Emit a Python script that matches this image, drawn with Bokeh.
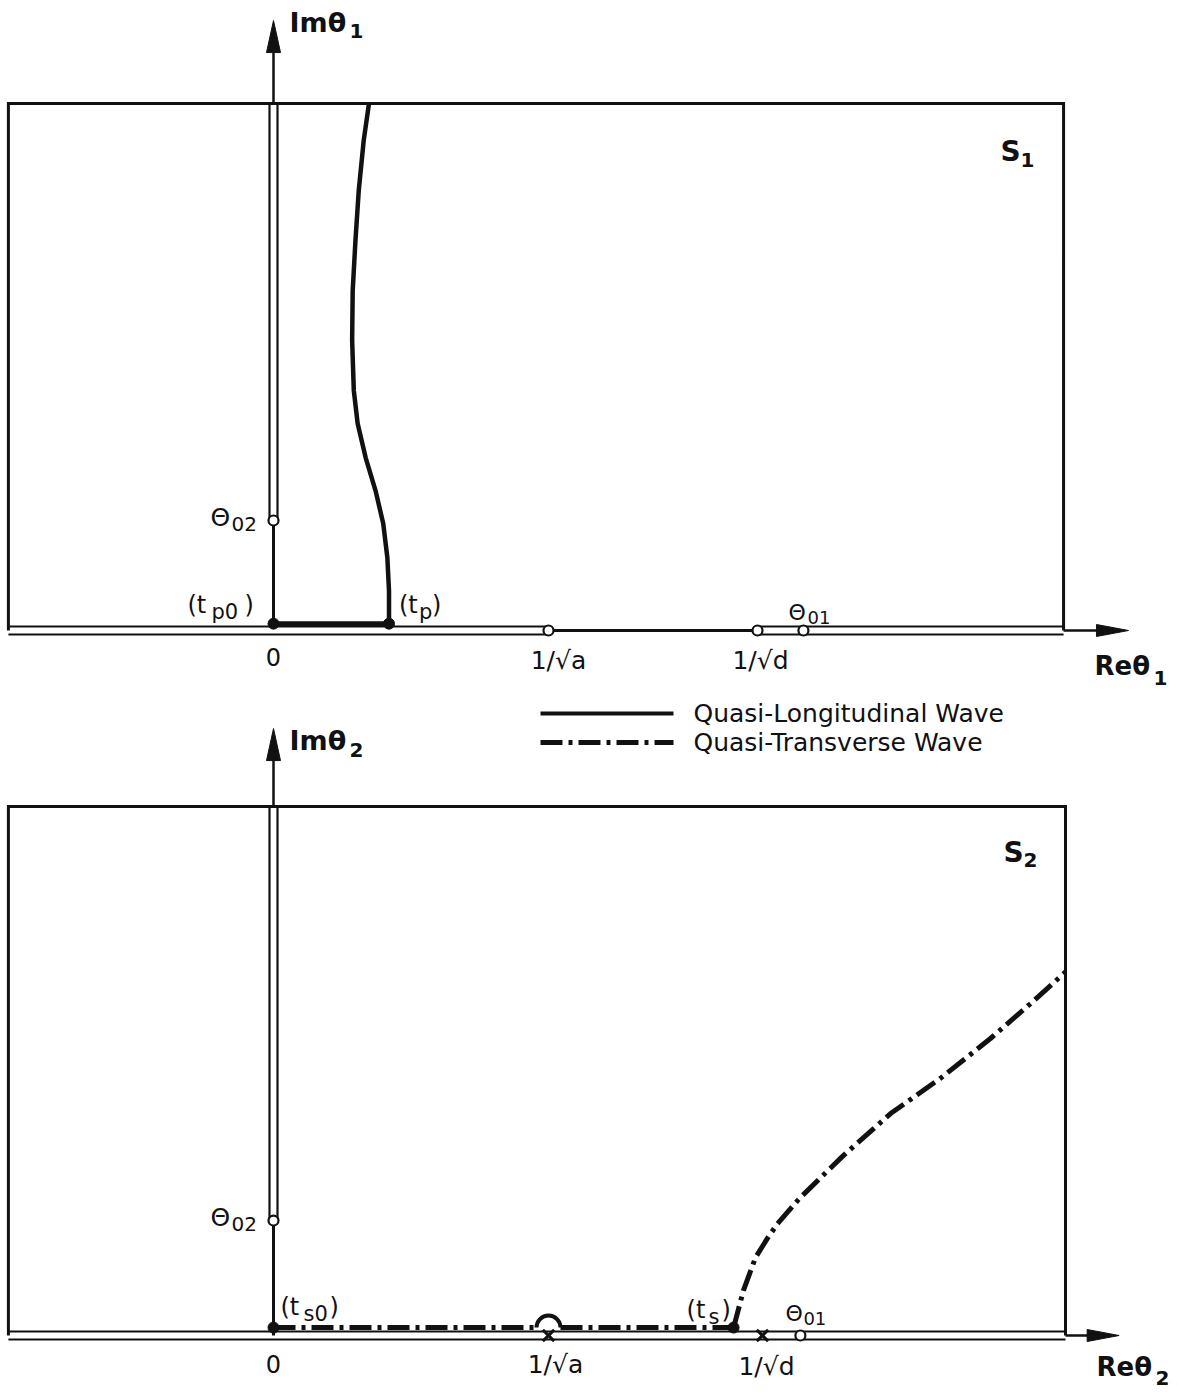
import math
from bokeh.plotting import figure
from bokeh.layouts import column
from bokeh.core.properties import value
from bokeh.embed import file_html
from bokeh.resources import INLINE

# ---------------- values (unit: 1/sqrt(a) = 1) ----------------
# Sheet S1 : Re theta1 / Im theta1
s1_re_min, s1_re_max = -0.964, 2.873
s1_im_max = 1.916
s1_re_tip, s1_im_tip = 3.109, 2.218
s1_inv_sqrt_a = 1.0
s1_inv_sqrt_d = 1.76
s1_theta01 = 1.927
s1_theta02 = 0.40
s1_tp = 0.42
s1_path_im = 0.025
ql_re = [0.420, 0.420, 0.414, 0.399, 0.371, 0.335, 0.306, 0.292, 0.286, 0.288, 0.298, 0.310, 0.328, 0.347]
ql_im = [0.025, 0.145, 0.265, 0.389, 0.509, 0.629, 0.753, 0.873, 1.055, 1.236, 1.418, 1.600, 1.782, 1.915]

# Sheet S2 : Re theta2 / Im theta2
s2_re_min, s2_re_max = -0.964, 2.880
s2_im_max = 1.924
s2_re_tip, s2_im_tip = 3.075, 2.207
s2_inv_sqrt_a = 1.0
s2_inv_sqrt_d = 1.778
s2_theta01 = 1.916
s2_theta02 = 0.418
s2_ts = 1.673
s2_path_im = 0.029
qt_re = [1.673, 1.709, 1.753, 1.796, 1.833, 1.916, 2.073, 2.244, 2.425, 2.607, 2.753, 2.880]
qt_im = [0.029, 0.164, 0.284, 0.353, 0.407, 0.502, 0.655, 0.807, 0.935, 1.080, 1.207, 1.322]

legend_labels = ["Quasi-Longitudinal Wave", "Quasi-Transverse Wave"]

# ---------------- layout / style ----------------
W, H1, H2 = 1179, 700, 692
U = 275.0                     # screen pixels per data unit (both axes)
INK = "#111111"
FONT = "DejaVu Sans"
DASHDOT = "22 6 4 6"


def px(n):
    return n / U


def make_fig(height, origin_left_px, origin_below_px):
    x0 = -origin_left_px / U
    y0 = -origin_below_px / U
    p = figure(width=W, height=height,
               x_range=(x0, x0 + W / U), y_range=(y0, y0 + height / U),
               output_backend="svg", toolbar_location=None, tools="",
               x_axis_location=None, y_axis_location=None,
               min_border=0, outline_line_color=None,
               background_fill_color="white", border_fill_color="white")
    p.grid.visible = False
    return p


def txt(p, x, y, s, size, align="left", style="normal", baseline="middle"):
    p.text(x=[x], y=[y], text=[s], text_font=value(FONT), text_font_size=f"{size}px",
           text_font_style=style, text_align=align, text_baseline=baseline, text_color=INK)


def frame(p, re_min, re_max, im_max):
    p.line([re_min, re_min, re_max, re_max], [0, im_max, im_max, 0],
           line_width=3, line_color=INK, line_join="miter")


def rails_h(p, a, b):
    for s in (1, -1):
        p.line([a, b], [s * px(4)] * 2, line_width=2.2, line_color=INK)


def rails_v(p, a, b):
    for s in (1, -1):
        p.line([s * px(4)] * 2, [a, b], line_width=2.2, line_color=INK)


def arrow_up(p, start, tip):
    p.line([0, 0], [start, tip - px(20)], line_width=2.5, line_color=INK)
    p.patch([-px(7), 0, px(7)], [tip - px(32), tip, tip - px(32)], color=INK)


def arrow_right(p, start, tip):
    p.line([start, tip - px(20)], [0, 0], line_width=2.5, line_color=INK)
    p.patch([tip - px(32), tip, tip - px(32)], [px(6), 0, -px(6)], color=INK)


def open_pts(p, xs, ys):
    p.scatter(xs, ys, marker="circle", size=10, fill_color="white",
              line_color=INK, line_width=2.2)


def dots(p, xs, ys):
    p.scatter(xs, ys, marker="circle", size=11, fill_color=INK, line_color=INK)


# ======================= top sheet S1 =======================
p1 = make_fig(H1, 273, 70)
frame(p1, s1_re_min, s1_re_max, s1_im_max)
rails_h(p1, s1_re_min, s1_inv_sqrt_a)
p1.line([s1_inv_sqrt_a, s1_inv_sqrt_d], [0, 0], line_width=3, line_color=INK)
rails_h(p1, s1_inv_sqrt_d, s1_re_max)
arrow_right(p1, s1_re_max, s1_re_tip)
rails_v(p1, s1_theta02, s1_im_max)
arrow_up(p1, s1_im_max, s1_im_tip)
# quasi-longitudinal path
p1.line([0, 0], [s1_path_im, s1_theta02], line_width=3, line_color=INK)
p1.line([0, s1_tp], [s1_path_im, s1_path_im], line_width=5, line_color=INK)
p1.line(ql_re, ql_im, line_width=4.5, line_color=INK, line_join="round")
dots(p1, [0, s1_tp], [s1_path_im, s1_path_im])
open_pts(p1, [0, s1_inv_sqrt_a, s1_inv_sqrt_d, s1_theta01], [s1_theta02, 0, 0, 0])

# labels S1
txt(p1, px(16), s1_im_tip - px(2), "Imθ", 27, style="bold")
txt(p1, px(76), s1_im_tip - px(10), "1", 20, style="bold")
txt(p1, s1_re_max - px(63), s1_im_max - px(48), "S", 28, style="bold")
txt(p1, s1_re_max - px(43), s1_im_max - px(56), "1", 20, style="bold")
txt(p1, -px(63), s1_theta02 + px(3), "Θ", 25)
txt(p1, -px(42), s1_theta02 - px(3), "02", 20)
txt(p1, -px(86), px(26), "(t", 24)
txt(p1, -px(62), px(19), "p0", 21)
txt(p1, -px(29), px(26), ")", 24)
txt(p1, s1_tp + px(10), px(26), "(t", 24)
txt(p1, s1_tp + px(30), px(19), "p", 21)
txt(p1, s1_tp + px(43), px(26), ")", 24)
txt(p1, 0, -px(26), "0", 24, align="center")
txt(p1, s1_inv_sqrt_a + px(10), -px(30), "1/√a", 25, align="center")
txt(p1, s1_inv_sqrt_d + px(3), -px(30), "1/√d", 25, align="center")
txt(p1, s1_theta01 - px(15), px(18), "Θ", 22)
txt(p1, s1_theta01 + px(4), px(13), "01", 18)
txt(p1, s1_re_max + px(31), -px(35), "Reθ", 26, style="bold")
txt(p1, s1_re_max + px(90), -px(47), "1", 20, style="bold")

# ======================= bottom sheet S2 =======================
p2 = make_fig(H2, 273, 57)
frame(p2, s2_re_min, s2_re_max, s2_im_max)
rails_h(p2, s2_re_min, s2_re_max)
arrow_right(p2, s2_re_max, s2_re_tip)
rails_v(p2, s2_theta02, s2_im_max)
arrow_up(p2, s2_im_max, s2_im_tip)
p2.line([0, 0], [0, s2_theta02], line_width=3, line_color=INK)
# quasi-transverse path (detour around the pole 1/sqrt(a))
r_bump = px(12)
p2.line([0, s2_inv_sqrt_a - r_bump], [s2_path_im] * 2, line_width=5, line_color=INK, line_dash=DASHDOT)
p2.arc(x=[s2_inv_sqrt_a], y=[s2_path_im], radius=r_bump, start_angle=0, end_angle=math.pi,
       line_width=4, line_color=INK)
p2.line([s2_inv_sqrt_a + r_bump, s2_ts], [s2_path_im] * 2, line_width=5, line_color=INK, line_dash=DASHDOT)
p2.line(qt_re, qt_im, line_width=5, line_color=INK, line_dash=DASHDOT, line_join="round")
dots(p2, [0, s2_ts], [s2_path_im, s2_path_im])
p2.scatter([s2_inv_sqrt_a, s2_inv_sqrt_d], [0, 0], marker="x", size=16, line_width=3, line_color=INK)
open_pts(p2, [0, s2_theta01], [s2_theta02, 0])

# labels S2
txt(p2, px(16), s2_im_tip - px(12), "Imθ", 27, style="bold")
txt(p2, px(76), s2_im_tip - px(21), "2", 20, style="bold")
txt(p2, s2_re_max - px(62), s2_im_max - px(46), "S", 28, style="bold")
txt(p2, s2_re_max - px(42), s2_im_max - px(54), "2", 20, style="bold")
txt(p2, -px(63), s2_theta02 + px(3), "Θ", 25)
txt(p2, -px(42), s2_theta02 - px(3), "02", 20)
txt(p2, px(7), px(29), "(t", 24)
txt(p2, px(30), px(22), "s0", 21)
txt(p2, px(56), px(29), ")", 24)
txt(p2, s2_ts - px(47), px(26), "(t", 24)
txt(p2, s2_ts - px(25), px(19), "s", 21)
txt(p2, s2_ts - px(12), px(26), ")", 24)
txt(p2, 0, -px(28), "0", 24, align="center")
txt(p2, s2_inv_sqrt_a + px(7), -px(29), "1/√a", 25, align="center")
txt(p2, s2_inv_sqrt_d + px(4), -px(31), "1/√d", 25, align="center")
txt(p2, s2_theta01 - px(15), px(22), "Θ", 22)
txt(p2, s2_theta01 + px(3), px(17), "01", 18)
txt(p2, s2_re_max + px(31), -px(31), "Reθ", 26, style="bold")
txt(p2, s2_re_max + px(90), -px(42), "2", 20, style="bold")

# legend (drawn between the two sheets)
leg_x0, leg_x1, leg_tx = px(267), px(400), px(420)
leg_y = [px(622), px(593)]
p2.line([leg_x0, leg_x1], [leg_y[0]] * 2, line_width=4, line_color=INK)
p2.line([leg_x0, leg_x1], [leg_y[1]] * 2, line_width=5, line_color=INK, line_dash=DASHDOT)
for lab, yy in zip(legend_labels, leg_y):
    txt(p2, leg_tx, yy, lab, 25)

layout = column(p1, p2, spacing=0)
open("out.html", "w").write(file_html(layout, INLINE))
